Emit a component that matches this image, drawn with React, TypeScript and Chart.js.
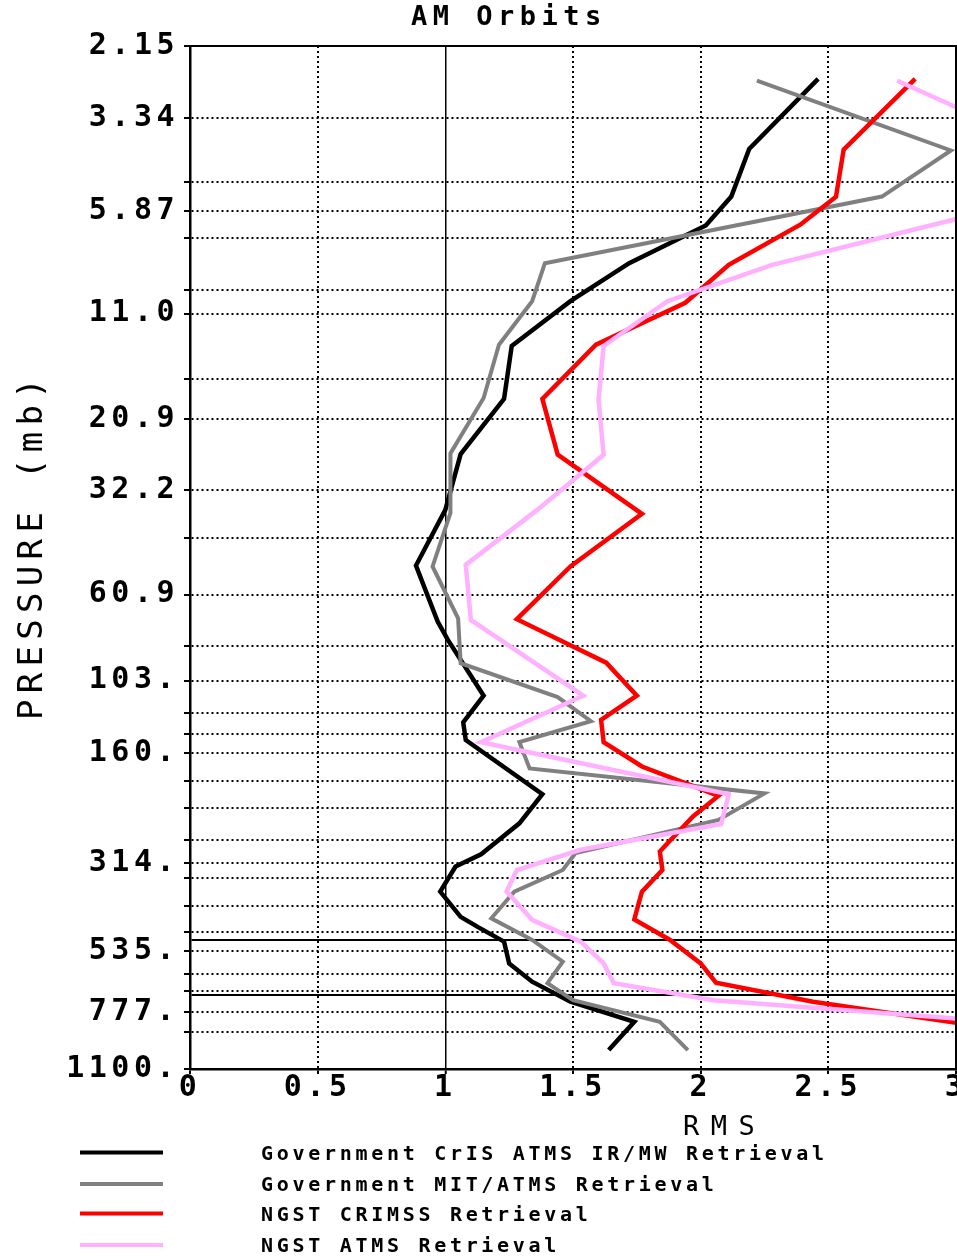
import React, { useEffect, useRef } from 'react';
import { Chart, registerables } from 'chart.js';

Chart.register(...registerables);

// ---------- data (pressure in mb, RMS values) ----------
const govCrisPressure = [2.63, 4.03, 5.39, 6.43, 8.09, 10.2, 13.4, 18.5, 25.9, 36.4, 51.1, 71.9, 80.4, 113, 133, 148, 206, 246, 297, 320, 373, 435, 464, 506, 578, 646, 730, 825, 980];
const govCrisRms = [2.46, 2.19, 2.12, 2.02, 1.72, 1.49, 1.26, 1.23, 1.06, 1.0, 0.885, 0.97, 1.01, 1.15, 1.07, 1.08, 1.38, 1.29, 1.14, 1.04, 0.98, 1.06, 1.13, 1.23, 1.25, 1.34, 1.49, 1.74, 1.64];

const govMitPressure = [2.66, 4.07, 5.39, 8.09, 10.2, 13.3, 18.4, 25.8, 37.1, 51.4, 70.5, 92.7, 114, 132, 150, 176, 205, 241, 295, 327, 373, 439, 501, 572, 652, 723, 825, 980];
const govMitRms = [2.22, 2.98, 2.71, 1.39, 1.34, 1.21, 1.15, 1.02, 1.02, 0.95, 1.05, 1.06, 1.44, 1.57, 1.29, 1.33, 2.25, 2.07, 1.51, 1.46, 1.27, 1.18, 1.34, 1.46, 1.4, 1.5, 1.84, 1.95];

const ngstCrimssPressure = [2.63, 4.05, 5.4, 6.4, 8.17, 10.3, 13.3, 18.5, 26.0, 37.3, 51.4, 70.9, 92.4, 113, 131, 150, 174, 208, 236, 292, 327, 373, 442, 501, 578, 650, 730, 879];
const ngstCrimssRms = [2.84, 2.56, 2.53, 2.39, 2.11, 1.94, 1.59, 1.38, 1.44, 1.77, 1.49, 1.28, 1.63, 1.75, 1.61, 1.62, 1.77, 2.07, 1.97, 1.84, 1.85, 1.77, 1.74, 1.88, 2.0, 2.06, 2.44, 3.25];

const ngstAtmsPressure = [2.66, 4.05, 5.4, 8.17, 10.2, 13.4, 18.6, 26.0, 36.4, 50.9, 71.2, 113, 150, 206, 247, 289, 327, 373, 443, 506, 578, 652, 723, 879];
const ngstAtmsRms = [2.77, 3.37, 3.35, 2.28, 1.87, 1.62, 1.6, 1.62, 1.36, 1.08, 1.1, 1.54, 1.14, 2.11, 2.08, 1.53, 1.28, 1.24, 1.34, 1.53, 1.62, 1.66, 2.05, 3.71];

const seriesLabels = [
  'Government CrIS ATMS IR/MW Retrieval',
  'Government MIT/ATMS Retrieval',
  'NGST CRIMSS Retrieval',
  'NGST ATMS Retrieval',
];
const seriesColors = ['#000000', '#808080', '#ff0000', '#ffb0ff'];

// ---------- axes ----------
const xTickValues = [0, 0.5, 1, 1.5, 2, 2.5, 3];
const xTickLabels = ['0', '0.5', '1', '1.5', '2', '2.5', '3'];

const yGridLevels = [2.1526, 3.3398, 4.9204, 5.8776, 6.9567, 9.5119, 11.0038, 16.4318, 20.9224, 32.2744, 43.1001, 60.9895, 83.231, 103.0172, 125.6456, 142.3848, 160.4959, 190.3203, 223.4415, 272.9191, 314.1369, 343.6176, 407.4738, 477.9607, 500, 535.2322, 617.5112, 683.6673, 700, 777.7897, 878.6201, 1100];
const yLabelLevels = [2.1526, 3.3398, 5.8776, 11.0038, 20.9224, 32.2744, 60.9895, 103.0172, 160.4959, 314.1369, 535.2322, 777.7897, 1100];
const yLabelTexts = ['2.15', '3.34', '5.87', '11.0', '20.9', '32.2', '60.9', '103.', '160.', '314.', '535.', '777.', '1100.'];
const ySolidLevels = [500, 700];

const titleText = 'AM Orbits';
const xTitleText = 'RMS';
const yTitleText = 'PRESSURE (mb)';

const MONO = '"DejaVu Sans Mono", "Liberation Mono", monospace';

const toPoints = (p: number[], v: number[]) => p.map((pp, i) => ({ x: v[i], y: pp }));
const near = (a: number, b: number) => Math.abs(a - b) < 1e-6;
const isSolidY = (v: number) => ySolidLevels.some((s) => near(s, v));

const legendRows = [1152.5, 1184, 1213.5, 1245];

const decorPlugin = {
  id: 'decor',
  beforeDraw(chart: any) {
    chart.ctx.letterSpacing = '4.5px';
  },
  afterDraw(chart: any) {
    const { ctx, chartArea: a } = chart;
    ctx.save();
    // top & right frame
    ctx.strokeStyle = '#000';
    ctx.lineWidth = 2;
    ctx.setLineDash([]);
    ctx.beginPath();
    ctx.moveTo(a.left, a.top);
    ctx.lineTo(a.right, a.top);
    ctx.lineTo(a.right, a.bottom);
    ctx.stroke();

    ctx.fillStyle = '#000';
    ctx.textAlign = 'left';
    ctx.textBaseline = 'alphabetic';

    // title
    ctx.font = `bold 27px ${MONO}`;
    ctx.letterSpacing = '5.5px';
    ctx.fillText(titleText, 411, 25);

    // x title
    ctx.font = `27px ${MONO}`;
    ctx.letterSpacing = '11.5px';
    ctx.fillText(xTitleText, 683, 1135);

    // y title
    ctx.save();
    ctx.translate(42, 720);
    ctx.rotate(-Math.PI / 2);
    ctx.font = `34px ${MONO}`;
    ctx.letterSpacing = '6.3px';
    ctx.fillText(yTitleText, 0, 0);
    ctx.restore();

    // legend
    ctx.font = `bold 20px ${MONO}`;
    ctx.letterSpacing = '3.7px';
    seriesLabels.forEach((label, i) => {
      const y = legendRows[i];
      ctx.strokeStyle = seriesColors[i];
      ctx.lineWidth = 4;
      ctx.beginPath();
      ctx.moveTo(80, y);
      ctx.lineTo(163, y);
      ctx.stroke();
      ctx.fillStyle = '#000';
      ctx.fillText(label, 261, y + 7.3);
    });
    ctx.restore();
  },
};

export default function App() {
  const ref = useRef<HTMLCanvasElement>(null);

  useEffect(() => {
    if (!ref.current) return;
    const pointSets = [
      toPoints(govCrisPressure, govCrisRms),
      toPoints(govMitPressure, govMitRms),
      toPoints(ngstCrimssPressure, ngstCrimssRms),
      toPoints(ngstAtmsPressure, ngstAtmsRms),
    ];
    const widths = [4.5, 4, 4.5, 4.5];
    const orders = [3, 2, 1, 0];
    const chart = new Chart(ref.current, {
      type: 'scatter',
      data: {
        datasets: pointSets.map((pts, i) => ({
          label: seriesLabels[i],
          data: pts,
          showLine: true,
          borderColor: seriesColors[i],
          backgroundColor: seriesColors[i],
          borderWidth: widths[i],
          pointRadius: 0,
          pointHoverRadius: 0,
          borderJoinStyle: 'miter',
          borderCapStyle: 'butt',
          tension: 0,
          order: orders[i],
        })),
      },
      options: {
        responsive: false,
        animation: false,
        events: [],
        layout: { padding: { left: 0, top: 46, right: 24, bottom: 108 } },
        plugins: {
          legend: { display: false },
          title: { display: false },
          tooltip: { enabled: false },
        },
        scales: {
          x: {
            type: 'linear',
            position: 'bottom',
            min: 0,
            max: 3,
            bounds: 'data',
            afterBuildTicks: (s: any) => {
              s.ticks = xTickValues.map((v) => ({ value: v }));
            },
            afterFit: (s: any) => {
              s.height = 80;
            },
            ticks: {
              autoSkip: false,
              maxRotation: 0,
              minRotation: 0,
              padding: -1,
              color: '#000',
              font: { family: MONO, size: 30, weight: 'bold', lineHeight: 1 },
              callback: (v: any) => {
                const i = xTickValues.findIndex((t) => near(t, Number(v)));
                return i >= 0 ? xTickLabels[i] : '';
              },
            },
            grid: {
              color: '#000',
              lineWidth: (c: any) => (c.tick && near(c.tick.value, 1) ? 1.5 : 2),
              tickLength: 5,
              tickWidth: 2,
              tickColor: '#000',
            },
            border: {
              display: true,
              color: '#000',
              width: 2.5,
              dash: (c: any) => (c.tick && near(c.tick.value, 1) ? [] : [2, 3]),
            },
            title: { display: false },
          },
          y: {
            type: 'logarithmic',
            position: 'left',
            reverse: true,
            min: 2.1526,
            max: 1100,
            bounds: 'data',
            afterBuildTicks: (s: any) => {
              s.ticks = yGridLevels.map((v) => ({ value: v }));
            },
            afterFit: (s: any) => {
              s.width = 190;
            },
            ticks: {
              autoSkip: false,
              padding: 5,
              color: '#000',
              font: { family: MONO, size: 30, weight: 'bold', lineHeight: 1 },
              callback: (v: any) => {
                const i = yLabelLevels.findIndex((t) => near(t, Number(v)));
                return i >= 0 ? yLabelTexts[i] : '';
              },
            },
            grid: {
              color: '#000',
              lineWidth: 2,
              tickLength: 6,
              tickWidth: 2,
              tickColor: (c: any) => (c.tick && isSolidY(c.tick.value) ? 'rgba(0,0,0,0)' : '#000'),
            },
            border: {
              display: true,
              color: '#000',
              width: 2.5,
              dash: (c: any) => (c.tick && isSolidY(c.tick.value) ? [] : [2, 3]),
            },
            title: { display: false },
          },
        },
      } as any,
      plugins: [decorPlugin],
    } as any);
    return () => chart.destroy();
  }, []);

  return (
    <div
      style={{
        position: 'fixed',
        left: 0,
        top: 0,
        width: 957,
        height: 1257,
        overflow: 'hidden',
        background: '#fff',
      }}
    >
      <canvas ref={ref} width={980} height={1257} style={{ display: 'block', width: 980, height: 1257 }} />
    </div>
  );
}
